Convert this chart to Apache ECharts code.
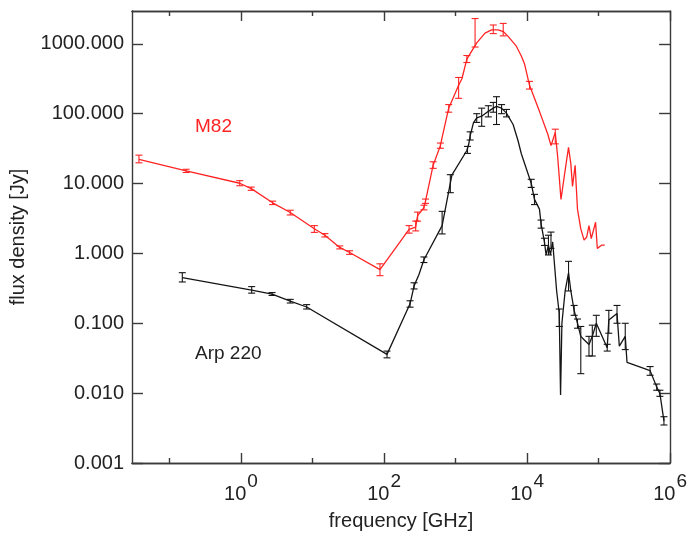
<!DOCTYPE html>
<html><head><meta charset="utf-8">
<script src="https://cdn.jsdelivr.net/npm/echarts@6/dist/echarts.min.js"></script>
<style>html,body{margin:0;padding:0;background:#fff}#c{width:690px;height:536px}</style>
</head><body><div id="c"></div>
<script>
// ---- data (frequency GHz, flux Jy) ----
const m82Freq = [0.0374,0.171,0.96,1.39,2.77,4.88,10.6,14.9,24,33,87.7,224,277,286,295,361,380,486,614,649,802,1104,1227,1439,1977,2582,3190,3955,4640,5430,7080,8310,9230,10830,12700,14900,19500,21600,24800,26800,29800,33100,34900,38000,40900,43200,47000,50700,56400,62700,68300,73400,79000,90800,96000,110000,122000];
const m82Flux = [22.2,15.2,10.1,8.46,5.3,3.85,2.25,1.82,1.22,1.03,0.587,2.2,2.37,2.94,3.47,4.52,5.6,18.3,34.9,45.7,120,255,316,603,1032,1426,1585,1585,1500,1277,925,670,513,255,166,108,50.8,34.9,53.7,24,5.93,12.6,18.3,33,19.3,9.1,18.3,4.3,2.25,1.55,1.72,2.5,1.63,2.79,1.18,1.31,1.31];
const m82ErrFreq = [0.0374,0.171,0.96,1.39,2.77,4.88,10.6,14.9,24,33,87.7,224,277,295,361,380,486,614,802,1104,1439,1875,3370,4640,10830,24800];
const m82ErrLo   = [19.8,14.4,9.3,8.0,5.0,3.55,2.0,1.72,1.16,0.97,0.48,1.95,2.1,2.9,4.2,5.2,16.5,32,105,166,540,900,1400,1300,225,37];
const m82ErrHi   = [25.5,16.0,11.0,8.9,5.6,4.15,2.5,1.92,1.28,1.09,0.71,2.5,2.9,3.9,4.9,6.0,20.5,38,135,330,680,2300,1860,1960,290,60];

const arpFreq = [0.151,1.41,2.72,4.88,8.28,110,231,263,308,361,649,845,891,1439,1530,1600,1778,1977,2321,2873,3370,3740,4400,5150,6380,7480,8310,11430,12700,14900,15700,17500,18450,19900,21200,22800,24000,25900,28200,29400,30700,34100,38000,40900,45500,50700,56400,62700,73400,81700,92900,132000,139000,181000,195000,236000,250000,525000,650000,720000,820000];
const arpFlux = [0.45,0.299,0.262,0.207,0.171,0.0359,0.19,0.343,0.5,0.811,2.5,10.1,13.3,29.7,36.8,48.2,74,87,92,108,120,127,120,102,70,41,26.7,10.1,5.93,4.3,2.65,1.46,0.95,1.31,0.95,1.46,0.767,0.292,0.138,0.0094,0.1,0.292,0.528,0.292,0.153,0.1,0.065,0.058,0.0496,0.065,0.1,0.0446,0.111,0.138,0.047,0.065,0.0275,0.021,0.0122,0.0099,0.004];
const arpErrFreq = [0.151,1.41,2.72,4.88,8.28,110,231,263,361,649,845,1469,1600,1977,2321,2873,3370,3740,4400,5150,11430,12700,15700,17500,19900,21600,28200,38000,45500,50700,56400,73400,81700,92900,132000,139000,181000,236000,525000,650000,720000,820000];
const arpErrLo   = [0.39,0.27,0.25,0.195,0.16,0.032,0.17,0.31,0.74,1.9,7.4,27,42,75,66,90,105,70,100,90,8.8,5.0,2.3,1.3,0.95,1.18,0.09,0.29,0.13,0.085,0.019,0.034,0.034,0.065,0.04,0.072,0.1,0.042,0.018,0.011,0.009,0.0035];
const arpErrHi   = [0.53,0.335,0.275,0.22,0.185,0.040,0.21,0.38,0.89,4.0,13.4,34,55,100,120,130,145,175,135,115,11.5,7.0,3.0,1.65,1.82,2.02,0.16,0.77,0.18,0.115,0.09,0.065,0.094,0.13,0.05,0.153,0.18,0.1,0.024,0.0135,0.011,0.0046];

const xMajor = [1, 100, 1e4, 1e6];
const xMinor = [0.1, 10, 1000, 1e5];
const yTicks = [0.001, 0.01, 0.1, 1, 10, 100, 1000];

const RED = '#ff2424', BLACK = '#151515', AX = '#3a3a3a', TXT = '#222';
const FONT = 'Liberation Sans';

const zip = (a, b) => a.map((v, i) => [v, b[i]]);
const zip3 = (a, b, c) => a.map((v, i) => [v, b[i], c[i]]);

function errRender(color) {
  return function (params, api) {
    const lo = api.coord([api.value(0), api.value(1)]);
    const hi = api.coord([api.value(0), api.value(2)]);
    const w = 3.5;
    const st = { stroke: color, lineWidth: 1.1 };
    return { type: 'group', children: [
      { type: 'line', shape: { x1: lo[0], y1: lo[1], x2: hi[0], y2: hi[1] }, style: st },
      { type: 'line', shape: { x1: lo[0] - w, y1: lo[1], x2: lo[0] + w, y2: lo[1] }, style: st },
      { type: 'line', shape: { x1: hi[0] - w, y1: hi[1], x2: hi[0] + w, y2: hi[1] }, style: st }
    ]};
  };
}

const xMin = 0.0299, xMax = 1e6, yMin = 0.001, yMax = 2950;
const baseX = (pos, ticks, len, labels) => ({
  type: 'log', logBase: 10, min: xMin, max: xMax, position: pos,
  axisLine: { show: true, lineStyle: { color: AX, width: 1.4 } },
  axisTick: { show: true, inside: true, length: len, customValues: ticks, lineStyle: { color: AX, width: 1.4 } },
  axisLabel: labels ? {
    show: true, customValues: ticks, margin: 9,
    formatter: v => '{b|10}{s|' + Math.round(Math.log10(v)) + '}',
    rich: {
      b: { fontSize: 20, fontFamily: FONT, color: TXT, lineHeight: 32, verticalAlign: 'bottom' },
      s: { fontSize: 19, fontFamily: FONT, color: TXT, lineHeight: 32, verticalAlign: 'top', padding: [0, 0, 0, 1] }
    }
  } : { show: false },
  splitLine: { show: false }
});
const baseY = (pos, labels) => ({
  type: 'log', logBase: 10, min: yMin, max: yMax, position: pos,
  axisLine: { show: true, lineStyle: { color: AX, width: 1.4 } },
  axisTick: { show: true, inside: true, length: 11, customValues: yTicks, lineStyle: { color: AX, width: 1.4 } },
  axisLabel: labels ? {
    show: true, customValues: yTicks, margin: 8, fontSize: 20, fontFamily: FONT, color: TXT,
    formatter: v => Number(v).toFixed(3)
  } : { show: false },
  splitLine: { show: false }
});

const xAxes = [
  Object.assign(baseX('bottom', xMajor, 10, true), {
    name: 'frequency [GHz]', nameLocation: 'middle', nameGap: 48,
    nameTextStyle: { fontSize: 20, fontFamily: FONT, color: TXT }
  }),
  baseX('bottom', xMinor, 5, false),
  baseX('top', xMajor, 10, false),
  baseX('top', xMinor, 5, false)
];
const yAxes = [
  Object.assign(baseY('left', true), {
    name: 'flux density [Jy]', nameLocation: 'middle', nameGap: 104,
    nameTextStyle: { fontSize: 20, fontFamily: FONT, color: TXT }
  }),
  baseY('right', false)
];

const chart = echarts.init(document.getElementById('c'), null, { renderer: 'canvas' });
chart.setOption({
  animation: false,
  backgroundColor: '#fff',
  grid: { left: 132, right: 15, top: 11, bottom: 64, containLabel: false },
  xAxis: xAxes,
  yAxis: yAxes,
  graphic: [
    { type: 'text', left: 195, top: 117, style: { text: 'M82', fontSize: 19, fontFamily: FONT, fill: RED } },
    { type: 'text', left: 195, top: 344, style: { text: 'Arp 220', fontSize: 19, fontFamily: FONT, fill: TXT } }
  ],
  series: [
    { type: 'line', data: zip(m82Freq, m82Flux), showSymbol: false, lineStyle: { color: RED, width: 1.3 }, z: 3 },
    { type: 'custom', data: zip3(m82ErrFreq, m82ErrLo, m82ErrHi), renderItem: errRender(RED), encode: { x: 0, y: [1, 2] }, z: 4 },
    { type: 'line', data: zip(arpFreq, arpFlux), showSymbol: false, lineStyle: { color: BLACK, width: 1.3 }, z: 3 },
    { type: 'custom', data: zip3(arpErrFreq, arpErrLo, arpErrHi), renderItem: errRender(BLACK), encode: { x: 0, y: [1, 2] }, z: 4 }
  ]
});
</script>
</body></html>
